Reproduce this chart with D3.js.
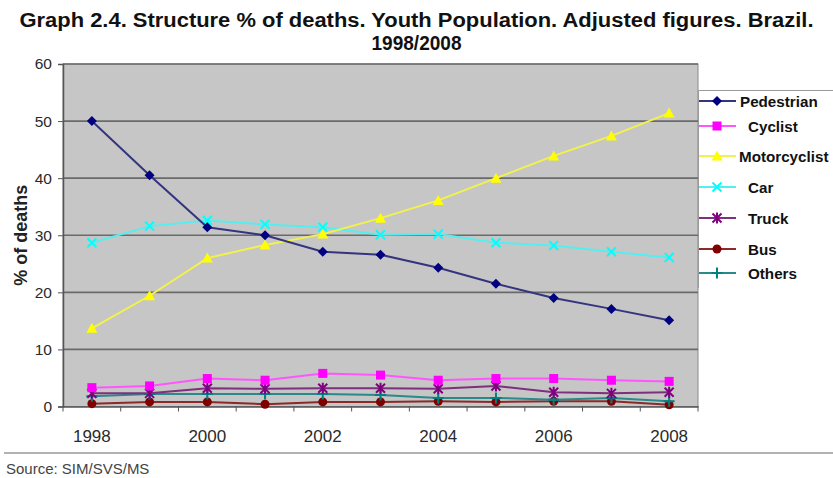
<!DOCTYPE html>
<html>
<head>
<meta charset="utf-8">
<script src="https://cdn.jsdelivr.net/npm/d3@7"></script>
<style>
  html, body { margin: 0; padding: 0; background: #fff; }
  svg { display: block; font-family: Arial, "Liberation Sans", sans-serif; }
</style>
</head>
<body>
<svg id="chart" width="833" height="478"></svg>
<script>
// ---- data ----
const years = [1998, 1999, 2000, 2001, 2002, 2003, 2004, 2005, 2006, 2007, 2008];
const yearLabels = [1998, 2000, 2002, 2004, 2006, 2008];
const yTicks = [0, 10, 20, 30, 40, 50, 60];
const seriesNames = ["Pedestrian", "Cyclist", "Motorcyclist", "Car", "Truck", "Bus", "Others"];
const pedestrian   = [50.0, 40.5, 31.4, 30.0, 27.1, 26.6, 24.3, 21.5, 19.0, 17.1, 15.1];
const cyclist      = [3.3, 3.6, 4.9, 4.6, 5.8, 5.5, 4.6, 4.9, 4.9, 4.6, 4.4];
const motorcyclist = [13.7, 19.4, 26.0, 28.3, 30.2, 33.0, 36.1, 40.0, 43.9, 47.4, 51.4];
const car          = [28.7, 31.6, 32.6, 31.9, 31.4, 30.1, 30.2, 28.7, 28.2, 27.1, 26.1];
const truck        = [2.3, 2.3, 3.2, 3.1, 3.2, 3.2, 3.1, 3.6, 2.5, 2.3, 2.5];
const bus          = [0.5, 0.8, 0.8, 0.4, 0.8, 0.8, 0.9, 0.8, 0.9, 0.9, 0.3];
const others       = [1.8, 2.2, 2.2, 2.2, 2.2, 2.0, 1.5, 1.5, 1.2, 1.5, 0.9];
const seriesValues = [pedestrian, cyclist, motorcyclist, car, truck, bus, others];

// ---- styles ----
const colors  = ["#000080", "#ff00ff", "#ffff00", "#00ffff", "#800080", "#800000", "#008080"];
const lineCol = ["#34347f", "#ff55ff", "#f2f24a", "#55eef0", "#7f2f7f", "#8a2a2a", "#2a8a8a"];
const shapes  = ["diamond", "square", "triangle", "x", "asterisk", "circle", "plus"];

const W = 833, H = 478;
const plot = { left: 63, right: 698, top: 64, bottom: 406.5 };
const FONT = "Arial, 'Liberation Sans', sans-serif";

const svg = d3.select("#chart");

const x = d3.scaleBand().domain(years).range([plot.left, plot.right]).padding(0);
const y = d3.scaleLinear().domain([0, 60]).range([plot.bottom, plot.top]);
const cx = d => x(d) + x.bandwidth() / 2;

// title
const title = svg.append("text")
  .attr("text-anchor", "middle")
  .attr("font-weight", "bold").attr("font-size", 20).attr("fill", "#111");
title.append("tspan").attr("x", W / 2).attr("y", 27)
  .attr("textLength", 794).attr("lengthAdjust", "spacingAndGlyphs")
  .text("Graph 2.4. Structure % of deaths. Youth Population. Adjusted figures. Brazil.");
title.append("tspan").attr("x", W / 2).attr("y", 50)
  .attr("textLength", 90).attr("lengthAdjust", "spacingAndGlyphs")
  .text("1998/2008");

// plot background
svg.append("rect")
  .attr("x", plot.left).attr("y", plot.top)
  .attr("width", plot.right - plot.left).attr("height", plot.bottom - plot.top)
  .attr("fill", "#c6c6c6").attr("stroke", "#8a8a8a").attr("stroke-width", 1);

// gridlines
svg.append("g").selectAll("line").data(yTicks.filter(t => t > 0)).join("line")
  .attr("x1", plot.left).attr("x2", plot.right)
  .attr("y1", d => y(d)).attr("y2", d => y(d))
  .attr("stroke", "#6a6a6a").attr("stroke-width", 1.6);

// y axis
const yAxis = svg.append("g").attr("transform", `translate(${plot.left},0)`)
  .call(d3.axisLeft(y).tickValues(yTicks).tickSize(5).tickPadding(6));
yAxis.select(".domain").attr("stroke", "#555").attr("stroke-width", 1.5);
yAxis.selectAll(".tick line").attr("stroke", "#555");
yAxis.selectAll("text").attr("font-size", 15.5).attr("fill", "#2a2a2a").attr("font-family", FONT);

// x axis: labels at category centers, ticks at category boundaries
const xAxis = svg.append("g").attr("transform", `translate(0,${plot.bottom})`)
  .call(d3.axisBottom(x).tickValues(yearLabels).tickSize(0).tickPadding(23));
xAxis.select(".domain").attr("stroke", "#555").attr("stroke-width", 1.5);
xAxis.selectAll("text").attr("font-size", 17).attr("fill", "#2a2a2a").attr("font-family", FONT);
const bounds = years.map(d => x(d)).concat([x(years[years.length - 1]) + x.bandwidth()]);
svg.append("g").selectAll("line").data(bounds).join("line")
  .attr("x1", d => d).attr("x2", d => d)
  .attr("y1", plot.bottom).attr("y2", plot.bottom + 5)
  .attr("stroke", "#555");

// y axis title
svg.append("text")
  .attr("transform", `translate(27,${(plot.top + plot.bottom) / 2}) rotate(-90)`)
  .attr("text-anchor", "middle").attr("font-weight", "bold").attr("font-size", 18)
  .attr("fill", "#222").text("% of deaths");

// marker drawing
function marker(sel, shape, color) {
  const s = 4.5;
  if (shape === "diamond") {
    sel.append("path").attr("d", `M0,${-s-0.5}L${s+0.5},0L0,${s+0.5}L${-s-0.5},0Z`).attr("fill", color);
  } else if (shape === "square") {
    sel.append("rect").attr("x", -s).attr("y", -s).attr("width", 2 * s).attr("height", 2 * s).attr("fill", color);
  } else if (shape === "triangle") {
    sel.append("path").attr("d", `M0,${-s-1}L${s+1},${s}L${-s-1},${s}Z`).attr("fill", color);
  } else if (shape === "x") {
    sel.append("path").attr("d", `M${-s},${-s}L${s},${s}M${-s},${s}L${s},${-s}`).attr("stroke", color).attr("stroke-width", 2);
  } else if (shape === "asterisk") {
    sel.append("path").attr("d", `M${-s},${-s}L${s},${s}M${-s},${s}L${s},${-s}M0,${-s-1}L0,${s+1}`).attr("stroke", color).attr("stroke-width", 2);
  } else if (shape === "circle") {
    sel.append("circle").attr("r", s).attr("fill", color);
  } else if (shape === "plus") {
    sel.append("path").attr("d", `M${-s-1},0L${s+1},0M0,${-s-1}L0,${s+1}`).attr("stroke", color).attr("stroke-width", 2);
  }
}

// series (draw small ones first, big ones on top)
const line = d3.line().x((d, i) => cx(years[i])).y(d => y(d));
const order = [5, 6, 4, 1, 3, 2, 0];
order.forEach(k => {
  const g = svg.append("g");
  g.append("path").datum(seriesValues[k]).attr("d", line)
    .attr("fill", "none").attr("stroke", lineCol[k]).attr("stroke-width", 2);
  seriesValues[k].forEach((v, i) => {
    const m = g.append("g").attr("transform", `translate(${cx(years[i])},${y(v)})`);
    marker(m, shapes[k], colors[k]);
  });
});

// legend
const legendY = [101, 126, 156, 187, 218, 249, 273];
const legendTextX = [740, 748, 739, 748, 748, 748, 748];
svg.append("path")
  .attr("d", `M${W},90.5H${plot.right + 0.5}V288`)
  .attr("fill", "none").attr("stroke", "#9a9a9a").attr("stroke-width", 1);
seriesNames.forEach((name, k) => {
  const g = svg.append("g");
  g.append("line").attr("x1", plot.right + 1).attr("x2", 736)
    .attr("y1", legendY[k]).attr("y2", legendY[k])
    .attr("stroke", lineCol[k]).attr("stroke-width", 2);
  const m = g.append("g").attr("transform", `translate(717,${legendY[k]})`);
  marker(m, shapes[k], colors[k]);
  g.append("text").attr("x", legendTextX[k]).attr("y", legendY[k] + 5.5)
    .attr("font-weight", "bold").attr("font-size", 15.2).attr("fill", "#111").text(name);
});

// footer
svg.append("line").attr("x1", 4).attr("x2", W).attr("y1", 453).attr("y2", 453)
  .attr("stroke", "#999").attr("stroke-width", 1.5);
svg.append("text").attr("x", 6).attr("y", 474).attr("font-size", 15)
  .attr("fill", "#444").text("Source: SIM/SVS/MS");
</script>
</body>
</html>
